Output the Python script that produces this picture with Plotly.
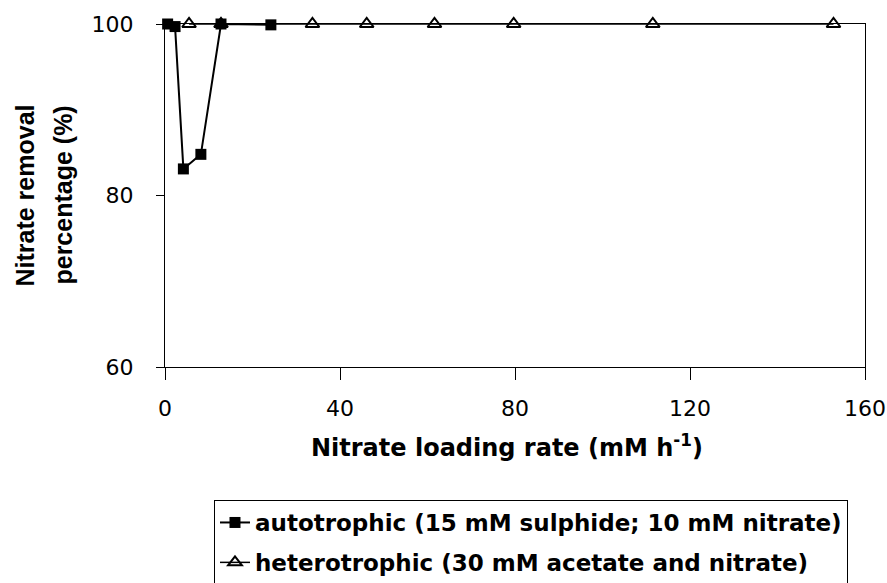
import plotly.graph_objects as go

# Nitrate loading rate (mM h-1) and removal percentage (%)
auto_rate = [0.6, 2.3, 4.2, 8.2, 12.8, 24.2]
auto_removal = [100, 99.7, 83.1, 84.8, 100, 99.9]

hetero_rate = [5.5, 12.8, 33.7, 46.1, 61.6, 79.7, 111.5, 152.8]
hetero_removal = [100, 100, 100, 100, 100, 100, 100, 100]

x_ticks = [0, 40, 80, 120, 160]
y_ticks = [60, 80, 100]

WIDE = "DejaVu Sans, Verdana, sans-serif"
ARIAL = "Liberation Sans, Arial, sans-serif"

fig = go.Figure()

fig.add_trace(go.Scatter(
    x=hetero_rate, y=hetero_removal, mode="lines+markers",
    name="<b>heterotrophic (30 mM acetate and nitrate)</b>",
    line=dict(color="black", width=1.5),
    marker=dict(symbol="triangle-up-open", size=12, color="black",
                line=dict(color="black", width=2)),
    cliponaxis=False, legendgroup="h", legendrank=2,
))
fig.add_trace(go.Scatter(
    x=auto_rate, y=auto_removal, mode="lines+markers",
    name="<b>autotrophic (15 mM sulphide; 10 mM nitrate)</b>",
    line=dict(color="black", width=2),
    marker=dict(symbol="square", size=11, color="black"),
    cliponaxis=False, legendgroup="a", legendrank=1,
))

axis_common = dict(showgrid=False, zeroline=False, linecolor="black",
                   linewidth=1, mirror=True, tickcolor="black",
                   tickfont=dict(family=WIDE, size=22, color="black"))

title_font = dict(family=ARIAL, size=25, color="black")

fig.update_layout(
    width=887, height=583,
    paper_bgcolor="white", plot_bgcolor="white",
    margin=dict(l=165, r=22, t=24, b=216, autoexpand=False),
    font=dict(family=WIDE, color="black"),
    xaxis=dict(range=[0, 160], tickvals=x_ticks, ticks="outside",
               ticklen=12, ticklabelstandoff=10, **axis_common),
    yaxis=dict(range=[60, 100], tickvals=y_ticks, ticks="outside",
               ticklen=8, ticklabelstandoff=18, **axis_common),
    yaxis2=dict(range=[60, 100], tickvals=y_ticks, overlaying="y",
                ticks="inside", ticklen=5, tickcolor="black",
                showticklabels=False, showgrid=False, zeroline=False,
                showline=False),
    showlegend=True,
    legend=dict(x=0.9757, xanchor="right", y=-0.3878, yanchor="top",
                bordercolor="black", borderwidth=1, bgcolor="white",
                font=dict(family=WIDE, size=23, color="black"),
                tracegroupgap=7, traceorder="grouped"),
    annotations=[
        dict(text="<b>Nitrate removal</b>", textangle=-90,
             xref="paper", yref="paper", x=-0.2014, y=0.5,
             xanchor="center", yanchor="middle", showarrow=False,
             font=title_font),
        dict(text="<b>percentage (%)</b>", textangle=-90,
             xref="paper", yref="paper", x=-0.1471, y=0.5,
             xanchor="center", yanchor="middle", showarrow=False,
             font=title_font),
        dict(text="<b>Nitrate loading rate (mM h<sup>-1</sup>)</b>",
             xref="paper", yref="paper", x=0.488, y=-0.2307,
             xanchor="center", yanchor="middle", showarrow=False,
             font=dict(family=WIDE, size=24, color="black")),
    ],
)

fig.write_html("out.html")
